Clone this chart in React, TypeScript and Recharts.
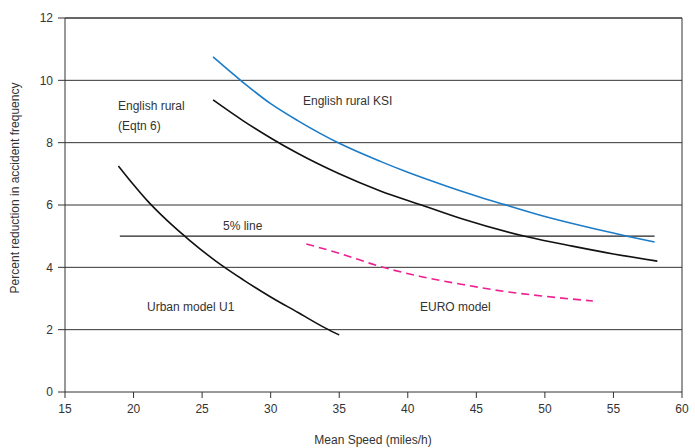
import { CartesianGrid, Line, LineChart, ReferenceLine, XAxis, YAxis } from "recharts";

// speed (miles/h) -> percent reduction
const ksiX = [25.8, 28, 30, 32, 35, 38, 40, 43, 45, 47, 50, 53, 56, 58];
const ksiY = [10.75, 9.93, 9.25, 8.7, 7.98, 7.4, 7.05, 6.58, 6.29, 6.02, 5.63, 5.3, 5.0, 4.81];

const eqtn6X = [25.8, 28, 30, 32, 35, 38, 41, 44, 48.7, 52, 55, 58.2];
const eqtn6Y = [9.37, 8.7, 8.15, 7.65, 7.0, 6.45, 6.0, 5.55, 4.98, 4.68, 4.43, 4.2];

const urbanX = [18.9, 20, 21, 22, 23, 24, 26, 28, 30, 32, 34, 35];
const urbanY = [7.25, 6.65, 6.14, 5.69, 5.28, 4.9, 4.2, 3.6, 3.05, 2.55, 2.05, 1.83];

const euroX = [32.6, 35, 38.2, 41, 44, 47, 50, 53.5];
const euroY = [4.75, 4.45, 4.0, 3.7, 3.45, 3.23, 3.07, 2.92];

const fiveLineX = [19, 58];
const fiveLineY = [5, 5];

const xTicks = [15, 20, 25, 30, 35, 40, 45, 50, 55, 60];
const yTicks = [0, 2, 4, 6, 8, 10, 12];

const toRows = (xs: number[], ys: number[]) => xs.map((x, i) => ({ x, y: ys[i] }));

const FONT = "'Liberation Sans', Arial, sans-serif";
const TEXT = "#333";
const AXIS = "#333";

function Label({ x, y, children }: { x: number; y: number; children: string }) {
  return (
    <text x={x} y={y} fontSize={12} fill={TEXT} fontFamily={FONT}>
      {children}
    </text>
  );
}

export default function App() {
  return (
    <div style={{ position: "absolute", left: 0, top: 0, background: "#fff", fontFamily: FONT }}>
      <LineChart width={695} height={448} margin={{ top: 18, right: 13, bottom: 26, left: 25 }}>
        <CartesianGrid vertical={false} stroke={AXIS} strokeWidth={1} horizontalValues={[2, 4, 6, 8, 10, 12]} />
        <XAxis
          dataKey="x"
          type="number"
          domain={[15, 60]}
          ticks={xTicks}
          interval={0}
          height={30}
          tickSize={6}
          tickMargin={6}
          stroke={AXIS}
          tick={{ fontSize: 12, fill: TEXT, fontFamily: FONT }}
          allowDuplicatedCategory={false}
        />
        <YAxis
          type="number"
          domain={[0, 12]}
          ticks={yTicks}
          interval={0}
          width={40}
          tickSize={7}
          tickMargin={5}
          stroke={AXIS}
          tick={{ fontSize: 12, fill: TEXT, fontFamily: FONT }}
        />
        <ReferenceLine y={12} stroke={AXIS} strokeWidth={1} />
        <ReferenceLine x={60} stroke={AXIS} strokeWidth={1} />
        <Line data={toRows(fiveLineX, fiveLineY)} dataKey="y" stroke="#222" strokeWidth={1.3} dot={false} isAnimationActive={false} />
        <Line data={toRows(ksiX, ksiY)} dataKey="y" type="monotone" stroke="#1c7cc8" strokeWidth={1.6} dot={false} isAnimationActive={false} />
        <Line data={toRows(eqtn6X, eqtn6Y)} dataKey="y" type="monotone" stroke="#111" strokeWidth={1.6} dot={false} isAnimationActive={false} />
        <Line data={toRows(urbanX, urbanY)} dataKey="y" type="monotone" stroke="#111" strokeWidth={1.6} dot={false} isAnimationActive={false} />
        <Line
          data={toRows(euroX, euroY)}
          dataKey="y"
          type="monotone"
          stroke="#ee1f8f"
          strokeWidth={1.6}
          strokeDasharray="8 5"
          dot={false}
          isAnimationActive={false}
        />
        <Label x={303} y={105}>English rural KSI</Label>
        <Label x={118} y={110}>English rural</Label>
        <Label x={118} y={130}>(Eqtn 6)</Label>
        <Label x={223} y={230}>5% line</Label>
        <Label x={147} y={311}>Urban model U1</Label>
        <Label x={420} y={311}>EURO model</Label>
        <text x={373} y={444} textAnchor="middle" fontSize={12} fill={TEXT} fontFamily={FONT}>
          Mean Speed (miles/h)
        </text>
        <text
          x={19}
          y={188}
          textAnchor="middle"
          fontSize={12}
          fill={TEXT}
          fontFamily={FONT}
          transform="rotate(-90 19 188)"
        >
          Percent reduction in accident frequency
        </text>
      </LineChart>
    </div>
  );
}
